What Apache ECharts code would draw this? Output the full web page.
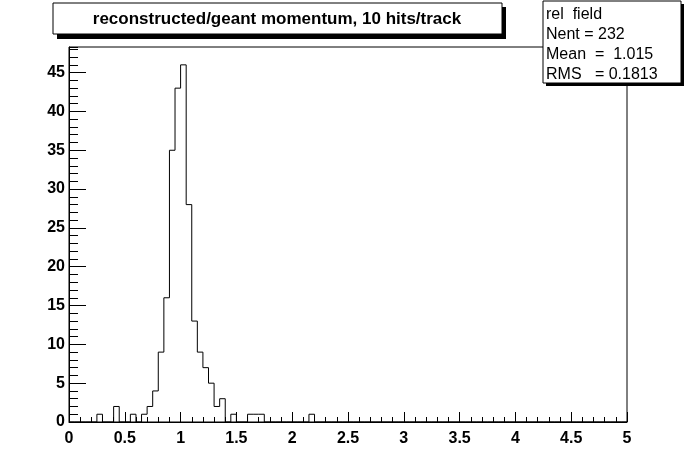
<!DOCTYPE html>
<html>
<head>
<meta charset="utf-8">
<script src="https://cdn.jsdelivr.net/npm/echarts@6/dist/echarts.min.js"></script>
<style>
html,body{margin:0;padding:0;background:#fff;}
#c{width:696px;height:472px;}
</style>
</head>
<body>
<div id="c"></div>
<script>
// ---- data ----
const titleText = 'reconstructed/geant momentum, 10 hits/track';
const statsLines = ['rel  field', 'Nent = 232', 'Mean  =  1.015', 'RMS   = 0.1813'];
const xMin = 0, xMax = 5, binWidth = 0.05;
const yMax = 48.3;
// bin counts, 100 bins of width 0.05 from 0 to 5
const counts = [
  0,0,0,0,0, 1,0,0,2,0,
  0,1,0,1,2, 4,9,16,35,43,
  46,28,13,9,7, 5,2,3,0,1,
  0,0,1,1,1, 0,0,0,0,0,
  0,0,0,1,0, 0,0,0,0,0,
  0,0,0,0,0, 0,0,0,0,0,
  0,0,0,0,0, 0,0,0,0,0,
  0,0,0,0,0, 0,0,0,0,0,
  0,0,0,0,0, 0,0,0,0,0,
  0,0,0,0,0, 0,0,0,0,0
];
const xTickLabels = ['0','0.5','1','1.5','2','2.5','3','3.5','4','4.5','5'];
const yTickLabels = ['0','5','10','15','20','25','30','35','40','45'];

// ---- build series points (bin left edges, step histogram) ----
const pts = counts.map((c, i) => [+(xMin + i * binWidth).toFixed(4), c]);
pts.push([xMax, counts[counts.length - 1]]);

const FONT = '"Liberation Sans", Arial, Helvetica, sans-serif';
const chart = echarts.init(document.getElementById('c'), null, {renderer: 'canvas'});

chart.setOption({
  animation: false,
  backgroundColor: '#fff',
  grid: {left: 69, right: 69, top: 47, bottom: 50, show: true, borderColor: '#000', borderWidth: 1, backgroundColor: 'transparent'},
  xAxis: [{
    type: 'value', min: xMin, max: xMax, interval: 0.5,
    axisLine: {show: true, onZero: false, lineStyle: {color: '#000', width: 1}},
    axisTick: {show: true, inside: true, length: 10, lineStyle: {color: '#000', width: 1}},
    minorTick: {show: true, splitNumber: 5, length: 5, lineStyle: {color: '#000', width: 1}},
    splitLine: {show: false},
    axisLabel: {
      show: true, margin: 9, color: '#000', fontSize: 16, fontWeight: 'bold', fontFamily: FONT,
      formatter: (v) => { const i = Math.round(v / 0.5); return xTickLabels[i] !== undefined ? xTickLabels[i] : ''; }
    }
  }],
  yAxis: [{
    type: 'value', min: 0, max: yMax, interval: 5,
    axisLine: {show: true, onZero: false, lineStyle: {color: '#000', width: 1}},
    axisTick: {show: true, inside: true, length: 17, lineStyle: {color: '#000', width: 1}},
    splitLine: {show: false},
    axisLabel: {
      show: true, margin: 4, color: '#000', fontSize: 16, fontWeight: 'bold', fontFamily: FONT,
      showMaxLabel: false,
      formatter: (v) => { const i = Math.round(v / 5); return (Math.abs(v - i * 5) < 1e-6 && yTickLabels[i] !== undefined) ? yTickLabels[i] : ''; }
    }
  }, {
    type: 'value', min: 0, max: yMax, interval: 1, position: 'left', offset: 0,
    axisLine: {show: false},
    axisTick: {show: true, inside: true, length: 9, lineStyle: {color: '#000', width: 1}},
    splitLine: {show: false},
    axisLabel: {show: false}
  }],
  series: [{
    type: 'line', step: 'end', data: pts, xAxisIndex: 0, yAxisIndex: 0,
    showSymbol: false, symbol: 'none',
    lineStyle: {color: '#000', width: 1},
    z: 5
  }],
  graphic: [
    // title box
    {type: 'rect', shape: {x: 57, y: 7, width: 449, height: 32}, style: {fill: '#000'}, z: 100},
    {type: 'rect', shape: {x: 53, y: 3, width: 449, height: 31}, style: {fill: '#fff', stroke: '#000', lineWidth: 1}, z: 101},
    {type: 'text', x: 277, y: 19, style: {text: titleText, fill: '#000', font: 'bold 17px ' + FONT, align: 'center', verticalAlign: 'middle'}, z: 102},
    // stats box
    {type: 'rect', shape: {x: 546, y: 4, width: 138, height: 82}, style: {fill: '#000'}, z: 100},
    {type: 'rect', shape: {x: 543, y: 1, width: 138, height: 82}, style: {fill: '#fff', stroke: '#000', lineWidth: 1}, z: 101}
  ].concat(statsLines.map((t, i) => ({
    type: 'text', x: 546, y: 15 + i * 20,
    style: {text: t, fill: '#000', font: '16px ' + FONT, align: 'left', verticalAlign: 'middle'}, z: 102
  })))
});
</script>
</body>
</html>
